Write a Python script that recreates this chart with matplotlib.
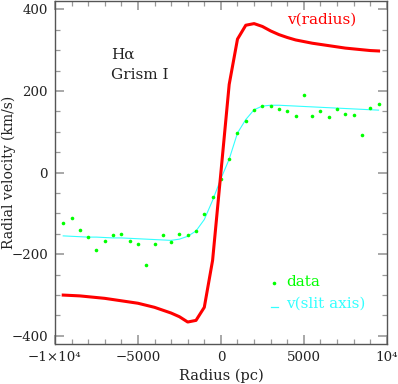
import numpy as np
import matplotlib
matplotlib.use("Agg")
import matplotlib.pyplot as plt
from matplotlib.ticker import MultipleLocator, FixedLocator, FixedFormatter

# Rayons (pc), un point tous les 500 pc
radius = np.arange(-9500, 9501, 500)

# Points mesures
v_data = [-124, -110, -141, -157, -190, -168, -153, -150, -168, -176,
          -226, -176, -152, -171, -150, -154, -142, -102, -60, -15,
          33, 98, 127, 154, 163, 162, 157, 152, 139, 190,
          139, 150, 136, 157, 144, 140, 93, 158, 169]

# Vitesse le long de la fente (ajustement)
v_slit = [-155, -156, -157, -158, -158, -159, -160, -160, -161, -162,
          -163, -164, -165, -166, -163, -156, -143, -115, -68, -15,
          33, 97, 130, 154, 163, 165, 165, 164, 163, 162,
          161, 160, 159, 158, 157, 156, 155, 154, 153]

# Courbe de rotation v(radius)
v_radius = [-300, -301, -302, -304, -306, -308, -311, -314, -317, -320,
            -325, -330, -337, -344, -353, -366, -362, -330, -215, 0,
            216, 327, 361, 365, 358, 347, 338, 331, 325, 321,
            317, 314, 311, 308, 305, 303, 301, 299, 298]

xticks = [-10000, -5000, 0, 5000, 10000]
xtick_labels = ['\u22121\u00d710\u2074', '\u22125000', '0', '5000', '10\u2074']
yticks = [-400, -200, 0, 200, 400]
ytick_labels = ['\u2212400', '\u2212200', '0', '200', '400']

plt.rcParams['font.family'] = ['DejaVu Serif']
fs_tick = 9.6
fs_lab = 10.5
fs_txt = 11

fig = plt.figure(figsize=(3.98, 3.84), dpi=100)
ax = fig.add_axes([0.138, 0.104, 0.834, 0.893])

ax.plot(radius, v_slit, color='#33ffff', linewidth=0.8, zorder=2)
ax.plot(radius, v_data, 'o', color='#00ff00', markersize=2.6, markeredgewidth=0, zorder=3)
ax.plot(radius, v_radius, color='#ff0000', linewidth=2.2, zorder=4)

ax.set_xlim(-10000, 10000)
ax.set_ylim(-420, 420)

ax.xaxis.set_major_locator(FixedLocator(xticks))
ax.xaxis.set_major_formatter(FixedFormatter(xtick_labels))
ax.xaxis.set_minor_locator(MultipleLocator(1000))
ax.yaxis.set_major_locator(FixedLocator(yticks))
ax.yaxis.set_major_formatter(FixedFormatter(ytick_labels))
ax.yaxis.set_minor_locator(MultipleLocator(50))

ax.tick_params(which='both', direction='in', top=True, right=True,
               color='#999999', labelsize=fs_tick, labelcolor='#222222')
ax.tick_params(which='major', length=6.5, width=1.2, pad=5)
ax.tick_params(which='minor', length=3.5, width=0.9)
for s in ax.spines.values():
    s.set_color('#555555')
    s.set_linewidth(1.0)

ax.set_xlabel('Radius (pc)', fontsize=fs_lab, color='#222222', labelpad=3)
ax.set_ylabel('Radial velocity (km/s)', fontsize=10, color='#222222')
ax.yaxis.set_label_coords(-0.118, 0.5)

ax.text(-6600, 290, 'H\u03b1', fontsize=fs_txt, color='#222222', va='center')
ax.text(-6600, 238, 'Grism I', fontsize=fs_txt, color='#222222', va='center')
ax.text(4000, 375, 'v(radius)', fontsize=fs_txt, color='#ff0000', va='center')

# legende faite a la main
ax.plot([3200], [-270], 'o', color='#00ff00', markersize=2.6, markeredgewidth=0)
ax.text(3950, -267, 'data', fontsize=fs_txt, color='#00ff00', va='center')
ax.plot([3000, 3450], [-330, -330], color='#33ffff', linewidth=0.9)
ax.text(3950, -320, 'v(slit axis)', fontsize=fs_txt, color='#33ffff', va='center')

fig.savefig('out.png', dpi=100)
